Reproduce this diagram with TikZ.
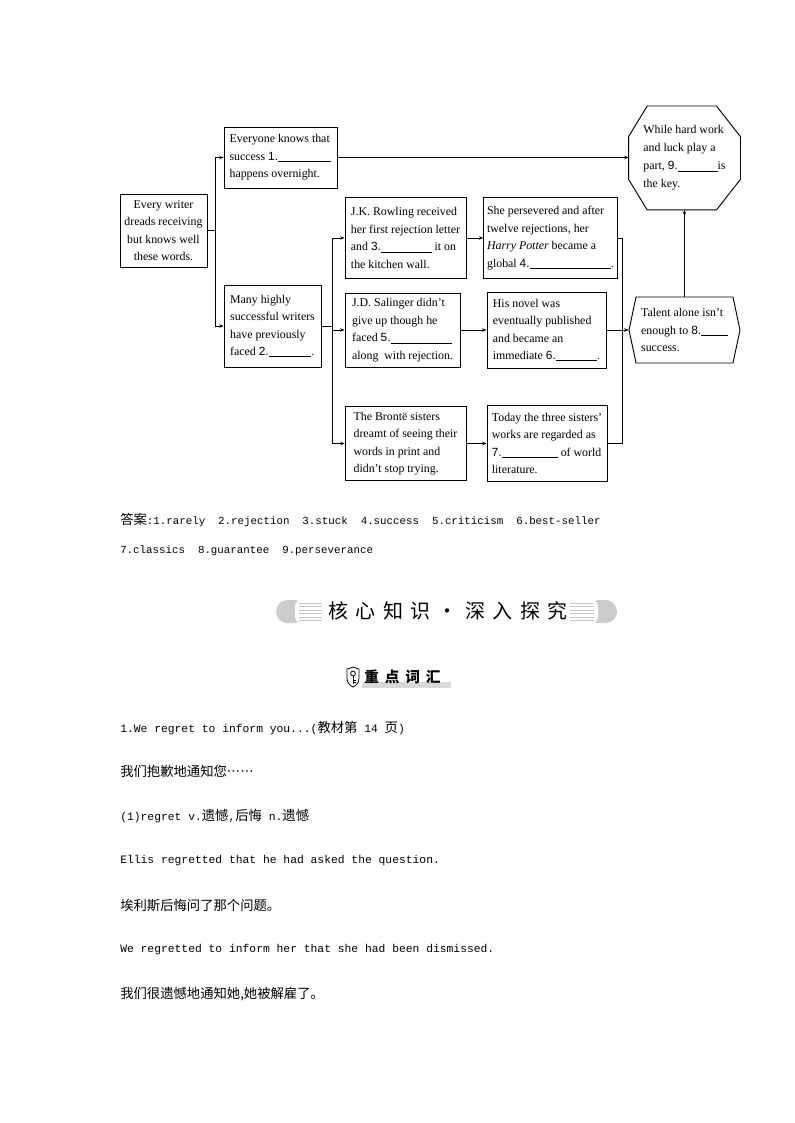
\documentclass[tikz,border=0pt]{standalone}
\usepackage{fontspec}
\setmainfont{Liberation Serif}
\setsansfont{Liberation Sans}
\setmonofont{Liberation Mono}
\newfontfamily\cjk{Noto Sans CJK SC}[Script=CJK, Language=Chinese Simplified]
\newfontfamily\cjkbanner{Noto Sans CJK SC}[LetterSpace=37]
\newfontfamily\cjkhead{Noto Sans CJK SC}[LetterSpace=40]
\usetikzlibrary{arrows.meta,positioning,shapes.symbols}

\newcommand{\blank}[2]{\textsf{#1.}\rule[-1.2pt]{#2}{0.5pt}}
\newcommand{\zh}[1]{{\cjk\fontsize{10pt}{12pt}\selectfont #1}}

\begin{document}
\begin{tikzpicture}[x=0.75pt, y=-0.75pt,
  cellbox/.style={draw, line width=0.7pt, inner xsep=2.5pt, inner ysep=2pt, align=left, font=\fontsize{8.9pt}{13.1pt}\selectfont},
  link/.style={line width=0.6pt, -{Stealth[length=3.2pt, width=2.6pt]}},
  plain/.style={line width=0.6pt},
  textline/.style={anchor=west, inner sep=0pt, font=\ttfamily\fontsize{8.5pt}{10pt}\selectfont}
]
\useasboundingbox (0,0) rectangle (794,1123);

\node[cellbox, align=center, minimum width=65.25pt, minimum height=54.75pt] (root) at (163.5,230.5) {Every writer\\dreads receiving\\but knows well\\these words.};
\node[cellbox, minimum width=84.75pt, minimum height=45.75pt] (overnight) at (280.5,157.5) {Everyone knows that\\success \blank{1}{40pt}\\happens overnight.};
\node[cellbox, minimum width=72.75pt, minimum height=61.5pt] (faced) at (272.5,326) {Many highly\\successful writers\\have previously\\faced \blank{2}{32pt}.};

\node[cellbox, minimum width=90.75pt, minimum height=60.75pt] (rowling) at (405.5,238) {J.K. Rowling received\\her first rejection letter\\and \blank{3}{38pt} it on\\the kitchen wall.};
\node[cellbox, minimum width=95.25pt, minimum height=60.75pt] (potter) at (550.5,238) {She persevered and after\\twelve rejections, her\\\textit{Harry Potter} became a\\global \blank{4}{61pt}.};
\node[cellbox, minimum width=86.25pt, minimum height=55.5pt] (salinger) at (402.5,330) {J.D. Salinger didn't\\give up though he\\faced \blank{5}{46pt}\\along\ \ with rejection.};
\node[cellbox, minimum width=89.25pt, minimum height=57pt] (novel) at (546.5,330) {His novel was\\eventually published\\and became an\\immediate \blank{6}{31pt}.};
\node[cellbox, minimum width=90.75pt, minimum height=55.5pt] (bronte) at (405.5,443.5) {The Brontë sisters\\dreamt of seeing their\\words in print and\\didn't stop trying.};
\node[cellbox, minimum width=90pt, minimum height=57pt] (classics) at (547,443.5) {Today the three sisters'\\works are regarded as\\\blank{7}{42pt} of world\\literature.};

\node[cellbox, shape=signal, signal to=west and east, signal pointer angle=156, minimum width=83.25pt, minimum height=49.5pt] (talent) at (684.5,330) {Talent alone isn't\\enough to \blank{8}{20pt}\\success.};
\node[cellbox, draw=none, minimum width=83.25pt, minimum height=77.25pt, font=\fontsize{8.9pt}{13.5pt}\selectfont] (key) at (684.5,158) {While hard work\\and luck play a\\part, \blank{9}{30pt}is\\the key.};
\draw[line width=0.7pt] ([xshift=14pt]key.north west) -- ([xshift=-18pt]key.north east) -- ([yshift=-23pt]key.north east) -- ([yshift=23pt]key.south east) -- ([xshift=-18pt]key.south east) -- ([xshift=14pt]key.south west) -- ([yshift=23pt]key.south west) -- ([yshift=-23pt]key.north west) -- cycle;

\draw[plain] (root.east) -- ++(8,0) coordinate (fork1);
\draw[link] (fork1) |- (overnight.west);
\draw[link] (fork1) |- (faced.west);
\draw[plain] (faced.east) -- ++(11,0) coordinate (fork2);
\draw[link] (fork2) |- (rowling.west);
\draw[link] (fork2) |- (salinger.west);
\draw[link] (fork2) |- (bronte.west);
\draw[link] (rowling.east) -- (potter.west);
\draw[link] (salinger.east) -- (novel.west);
\draw[link] (bronte.east) -- (classics.west);
\draw[plain] (potter.east) -- ++(5,0) coordinate (join) |- (classics.east);
\draw[link] (novel.east) -- (talent.west);
\draw[link] (overnight.east) -- (overnight.east -| key.west);
\draw[link] (talent.north) -- (key.south);

\node[textline, font=\ttfamily\fontsize{8.1pt}{10pt}\selectfont] (answers1) at (120,520) {\zh{答案}:1.rarely~~2.rejection~~3.stuck~~4.success~~5.criticism~~6.best-seller};
\node[textline, font=\ttfamily\fontsize{8.1pt}{10pt}\selectfont] (answers2) at (120,551) {7.classics~~8.guarantee~~9.perseverance};

\fill[gray!40, rounded corners=8.6pt] (276,600) rectangle (306,623);
\fill[white, rounded corners=5pt] (295,600) rectangle (323,623);
\foreach \yy in {603,606.5,...,621} \draw[gray!45, line width=0.4pt] (299,\yy) -- (322,\yy);
\fill[gray!40, rounded corners=8.6pt] (587,600) rectangle (617,623);
\fill[white, rounded corners=5pt] (569,600) rectangle (598,623);
\foreach \yy in {603,606.5,...,621} \draw[gray!45, line width=0.4pt] (570,\yy) -- (594,\yy);
\node[inner sep=0pt, font=\cjkbanner\fontsize{15pt}{18pt}\selectfont] (banner) at (448,611) {核心知识・深入探究};

\fill[gray!30] (362,682) rectangle (451,688);
\draw[line width=0.6pt] (347,669) -- (353,667) -- (359,669) -- (359,678) .. controls (359,683) and (356,685.5) .. (353,687) .. controls (350,685.5) and (347,683) .. (347,678) -- cycle;
\draw[line width=0.6pt] (353,673.5) circle[radius=1.8pt];
\draw[line width=0.6pt] (353,676) -- (353,684) (353,680) -- (355.5,680) (353,682.5) -- (355.5,682.5);
\node[anchor=west, inner sep=0pt, font=\cjkhead\bfseries\fontsize{11pt}{13pt}\selectfont] (vocab) at (364,677) {重点词汇};

\node[textline] (entry) at (120,728) {1.We regret to inform you...(\zh{教材第}~14~\zh{页})};
\node[textline] (entryzh) at (120,771) {\zh{我们抱歉地通知您……}};
\node[textline] (sense) at (120,816) {(1)regret v.\zh{遗憾},\zh{后悔}~n.\zh{遗憾}};
\node[textline] (ex1) at (120,861) {Ellis regretted that he had asked the question.};
\node[textline] (ex1zh) at (120,905) {\zh{埃利斯后悔问了那个问题。}};
\node[textline] (ex2) at (120,950) {We regretted to inform her that she had been dismissed.};
\node[textline] (ex2zh) at (120,994) {\zh{我们很遗憾地通知她,她被解雇了。}};
\end{tikzpicture}
\end{document}
